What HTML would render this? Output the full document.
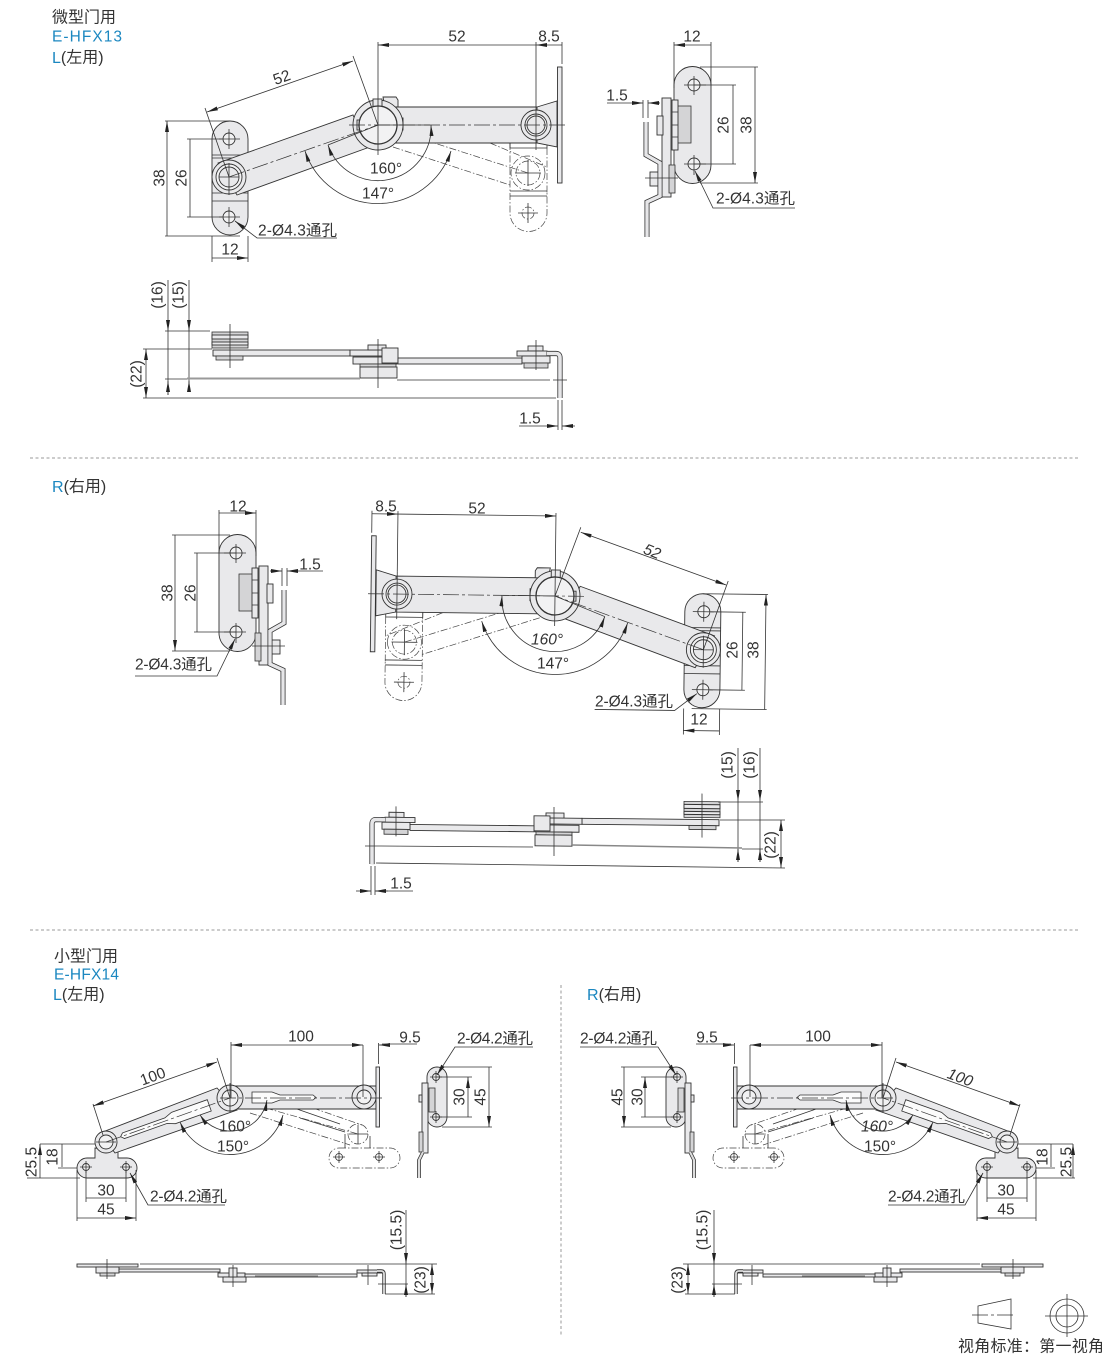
<!DOCTYPE html>
<html><head><meta charset="utf-8">
<style>
html,body{margin:0;padding:0;background:#fff}
svg{display:block}
text{font-family:"Liberation Sans","Noto Sans CJK SC",sans-serif;font-size:15.5px;fill:#333;stroke:none;dominant-baseline:central}
.hd{font-size:16px}
.m{text-anchor:middle}
.b{fill:#1b87c0}
.i{font-style:italic}
.n{fill:none;stroke:#333;stroke-width:.8}
.p{fill:#e9e9eb;stroke:#333;stroke-width:.9}
.w{fill:#f2f2f3;stroke:#333;stroke-width:.9}
.r{fill:#f2f2f3;stroke:#333;stroke-width:1.3}
.o{fill:#fbfbfb;stroke:#333;stroke-width:.8}
.g{fill:#d4d4d6;stroke:#333;stroke-width:.8}
.c{fill:none;stroke:#333;stroke-width:.7;stroke-dasharray:16 3 3 3}
.h{fill:none;stroke:#444;stroke-width:.7;stroke-dasharray:7 2 1.5 2}
.d{fill:none;stroke:#333;stroke-width:.8;marker-start:url(#a);marker-end:url(#a)}
.e{fill:none;stroke:#333;stroke-width:.8;marker-end:url(#a)}
.s{fill:none;stroke:#999;stroke-width:1;stroke-dasharray:3 2.5}
</style></head><body>
<svg width="1110" height="1361" viewBox="0 0 1110 1361" xmlns="http://www.w3.org/2000/svg">
<defs>
<marker id="a" viewBox="0 0 11 4" refX="11" refY="2" markerWidth="11" markerHeight="4" markerUnits="userSpaceOnUse" orient="auto-start-reverse"><path d="M0 0L11 2L0 4z" fill="#222"/></marker>

<g id="f1">
 <path class="h" d="M510 193V213a18.500 18.500 0 0 0 37 0V193M510 143V193M547 148V193"/>
 <path class="h" d="M490 143L547 167M393 147L510 185M378 125L528 173"/>
 <circle class="h" cx="528" cy="173" r="17"/><circle class="h" cx="528" cy="173" r="12"/>
 <circle class="h" cx="528" cy="213" r="6"/>
 <path class="n" d="M510 143V148H547V143M510 191H547M510 196H547M515 173H541M528 160V186M518 213H538M528 203V223"/>
 <path class="p" d="M212 139a18 18 0 0 1 36 0V217a18 18 0 0 1-36 0z"/>
 <path class="n" d="M212 155H248M212 158H248M212 193H248M212 201H248"/>
 <circle class="w" cx="229" cy="139" r="6"/><circle class="w" cx="229" cy="217" r="6"/>
 <path class="n" d="M219 139H240M229 129V149M219 217H240M229 207V227"/>
 <path class="p" d="M537 107L557 101V147L537 143Z"/>
 <path class="p" d="M385 107H537V143H393Z"/>
 <path class="p" d="M218 163L353 115L367 148L237 195Z"/>
 <rect class="p" x="397" y="118" width="6" height="12"/>
 <path class="p" d="M383 97H396L398 100V107H385Z"/>
 <circle class="p" cx="378" cy="125" r="25"/>
 <rect class="p" x="373" y="99" width="9" height="8"/>
 <rect class="p" x="357" y="120" width="4" height="10"/>
 <circle class="r" cx="378" cy="125" r="19"/>
 <circle class="p" cx="229" cy="177" r="17"/><circle class="w" cx="229" cy="177" r="13"/><circle class="p" cx="229" cy="177" r="10"/>
 <circle class="p" cx="536" cy="125" r="15"/><circle class="w" cx="536" cy="125" r="11"/><circle class="p" cx="536" cy="125" r="9"/>
 <rect class="p" x="557.500" y="67" width="4.500" height="116"/>
 <path class="c" d="M349 125H567M229 177L378 125"/>
 <path class="n" d="M378 92V155M536 102V150M229 163V195M219 177H239"/>
 <path class="d" d="M378 45H536M562 45H536"/>
 <path class="n" d="M378 42V92M536 42V102M562 42V64M165 121H230M165 236H240M187 139H222M187 217H222M212 236V262M248 236V262"/>
 <path class="d" d="M167 121V236M190 139V217M212 258H248"/>
 <path class="n" d="M205 108L229 177M353 56L378 125"/>
 <path class="d" d="M207 112L353 61"/>
 <path class="e" d="M337 238H257L235 221"/>
 <path class="n" d="M378 125L430 125M378 125L328 145"/>
 <path class="d" d="M431 125A53 53 0 0 1 328 145"/>
 <path class="d" d="M451 151A77 77 0 0 1 305 151"/>
</g>

<g id="s1">
 <path class="p" d="M674 85a18 18 0 0 1 37 0V165a18 18 0 0 1-37 0z"/>
 <circle class="w" cx="694" cy="85" r="6"/><circle class="w" cx="694" cy="164" r="6"/>
 <path class="n" d="M684 85H706M694 76V95M684 164H706M694 155V175"/>
 <rect class="g" x="677" y="106" width="14" height="37"/>
 <rect class="p" x="672" y="100" width="6" height="50"/>
 <path class="n" d="M672 112H678M672 125H678M672 137H678"/>
 <rect class="p" x="662" y="98" width="9" height="99"/>
 <rect class="p" x="657" y="116" width="6" height="19"/>
 <rect class="g" x="669" y="165" width="6" height="28"/>
 <rect class="p" x="650" y="172" width="12" height="14"/>
 <path fill="none" stroke="#333" stroke-width="5" d="M646 122V155L660 163V196L647 202V237"/>
 <path fill="none" stroke="#e6e6e8" stroke-width="3.400" d="M646 122V155L660 163V196L647 202V237"/>
 <path class="n" d="M645 178H678"/>
 <path class="n" d="M674 42V88M711 42V85M700 67H758M700 183H758M694 85H736M694 164H736M643 100V118M648 100V118"/>
 <path class="d" d="M674 45H711M733 85V164M755 67V183"/>
 <path class="e" d="M607 103H643"/><path class="e" d="M660 103H648"/>
 <path class="e" d="M795 208H713L695 171"/>
</g>

<g id="b1">
 <rect class="g" x="212" y="332" width="36" height="16"/>
 <rect class="p" x="212" y="335" width="36" height="4"/><rect class="p" x="212" y="342" width="36" height="3"/>
 <rect class="p" x="213" y="350" width="137" height="6"/>
 <rect class="g" x="216" y="356" width="27" height="4"/>
 <rect class="p" x="350" y="350" width="33" height="6"/>
 <rect class="p" x="368" y="345" width="18" height="5"/>
 <rect class="p" x="353" y="357" width="44" height="7"/>
 <rect class="p" x="382" y="348" width="16" height="15"/>
 <rect class="g" x="360" y="364" width="36" height="3"/>
 <rect class="p" x="360" y="367" width="37" height="11"/>
 <rect class="p" x="398" y="358" width="124" height="6"/>
 <rect class="p" x="528" y="346" width="15" height="5"/>
 <rect class="p" x="517" y="351" width="30" height="5"/>
 <rect class="p" x="522" y="356" width="28" height="7"/>
 <rect class="g" x="524" y="363" width="24" height="5"/>
 <path fill="none" stroke="#333" stroke-width="5.200" d="M547 353.500H556Q560 353.500 560 358V398"/>
 <path fill="none" stroke="#e6e6e8" stroke-width="3.600" d="M547 353.500H556Q560 353.500 560 358V398"/>
 <path class="n" d="M230 324V368M378 339V388M536 340V370"/>
</g>

<g id="f2">
 <path class="h" d="M339 1148H390a10 10 0 0 1 0 20H339a10 10 0 0 1 0-20zM313 1108L362 1125M250 1113L350 1145M230 1098L358 1134"/>
 <circle class="h" cx="358" cy="1134" r="10"/>
 <path class="n" d="M349 1134H368M358 1125V1144M345 1148V1134M370 1148V1136"/>
 <circle class="n" cx="339" cy="1157" r="3.500"/><circle class="n" cx="379" cy="1157" r="3.500"/>
 <path class="n" d="M333 1157H345M339 1151V1163M373 1157H385M379 1151V1163"/>
 <path class="n" d="M294 1108L340 1124M300 1118L345 1132"/>
 <path class="p" d="M95 1158V1148L118 1150V1158H127a10 10 0 0 1 0 20H87a10 10 0 0 1 0-20z"/>
 <circle class="w" cx="86" cy="1167" r="3.500"/><circle class="w" cx="126" cy="1167" r="3.500"/>
 <path class="n" d="M80 1167H92M86 1161V1173M120 1167H132M126 1161V1173"/>
 <path class="p" d="M230 1086H376V1109H230Z"/>
 <path class="o" d="M252 1092H272L280 1095H313L316 1097.500L313 1100H280L272 1103H252Z"/>
 <path class="p" d="M100 1133L217 1088L237 1110L115 1153Z"/>
 <g transform="rotate(160.500 230 1098)"><path class="o" d="M252 1092H290L298 1095H343L346 1098L343 1101H298L290 1104H252Z"/></g>
 <circle class="p" cx="106" cy="1142" r="11"/><circle class="w" cx="106" cy="1142" r="7"/>
 <circle class="p" cx="230" cy="1098" r="13"/><circle class="w" cx="230" cy="1098" r="8"/>
 <circle class="p" cx="364" cy="1097" r="12"/><circle class="w" cx="364" cy="1097" r="7"/>
 <rect class="p" x="376" y="1067" width="3.500" height="60"/>
 <path class="c" d="M220 1098H382M106 1142L230 1098"/>
 <path class="n" d="M230 1083V1112M96 1142H116"/>
 <path class="n" d="M231 1042V1098M363 1045V1097M378.500 1043V1064M40 1144H95M38 1178H80M58 1168H77M77 1170V1221M136 1170V1221M86 1170V1202M126 1170V1202"/>
 <path class="d" d="M231 1045H363"/><path class="e" d="M390 1045H379"/><path class="n" d="M382 1044H417"/>
 <path class="n" d="M93 1104L103 1135M217 1058L230 1098"/>
 <path class="d" d="M93 1106L217 1062"/>
 <path class="d" d="M40 1144V1178M62 1144V1167M86 1198H126M77 1218H136"/>
 <path class="d" d="M267 1100A37 37 0 0 1 200 1115"/>
 <path class="d" d="M283 1115A55 55 0 0 1 180 1122"/>
 <path class="e" d="M225 1205H148L130 1173"/>
 <path class="p" d="M427 1077a10 10 0 0 1 20 0V1117a10 10 0 0 1-20 0z"/>
 <circle class="w" cx="436" cy="1077" r="3.500"/><circle class="w" cx="436" cy="1117" r="3.500"/>
 <path class="n" d="M430 1077H442M436 1071V1083M430 1117H442M436 1111V1123"/>
 <rect class="g" x="429" y="1088" width="6" height="24"/>
 <rect class="p" x="422" y="1083" width="6" height="70"/>
 <rect class="p" x="419" y="1095" width="3" height="7"/>
 <rect class="g" x="419" y="1132" width="4" height="20"/>
 <path fill="none" stroke="#333" stroke-width="3.600" d="M423 1152L419 1160V1178"/>
 <path fill="none" stroke="#ddd" stroke-width="2" d="M423 1152L419 1160V1178"/>
 <path class="n" d="M436 1077H472M436 1117H472M442 1067H492M442 1127H492"/>
 <path class="d" d="M468 1077V1117M489 1067V1127"/>
 <path class="e" d="M533 1047H455L437 1075"/>
</g>

<g id="b2">
 <rect class="p" x="77" y="1264" width="61" height="3"/>
 <rect class="p" x="96" y="1267" width="23" height="6"/>
 <rect class="g" x="100" y="1273" width="15" height="3"/>
 <rect class="p" x="119" y="1269" width="101" height="3"/>
 <rect class="p" x="218" y="1273" width="27" height="4"/>
 <rect class="p" x="223" y="1277" width="23" height="5"/>
 <rect class="p" x="229" y="1268" width="8" height="9"/>
 <rect class="p" x="245" y="1274" width="112" height="3"/>
 <rect x="255" y="1275.500" width="63" height="1.500" fill="#666"/>
 <rect class="p" x="357" y="1270" width="26" height="3"/>
 <rect class="p" x="362" y="1273" width="15" height="3"/>
 <path fill="none" stroke="#333" stroke-width="3.400" d="M377 1271H381Q384 1271 384 1274V1294"/>
 <path fill="none" stroke="#ddd" stroke-width="1.800" d="M377 1271H381Q384 1271 384 1274V1294"/>
 <path class="n" d="M107 1259V1279M233 1265V1287M368 1265V1285"/>
 <path class="n" d="M140 1264H437M385 1294H435M378 1284H408" stroke-width="1"/>
 <path class="n" d="M406 1264V1297"/>
 <path class="e" d="M406 1210V1264"/><path class="e" d="M406 1297V1284"/>
 <path class="d" d="M432 1264V1294"/>
</g>
</defs>

<text class="hd" x="52" y="18" textLength="64">微型门用</text>
<text class="b" x="52" y="37" textLength="70">E-HFX13</text>
<text class="hd" x="52" y="58"><tspan class="b">L</tspan>(左用)</text>

<use href="#f1"/>
<text class="m" x="457" y="37">52</text><text class="m" x="549" y="37">8.5</text>
<text class="m" x="282" y="78" transform="rotate(-20 282 78)">52</text>
<text class="m" x="160" y="178" transform="rotate(-90 160 178)">38</text>
<text class="m" x="182" y="178" transform="rotate(-90 182 178)">26</text>
<text class="m" x="230" y="250">12</text>
<text class="m" x="386" y="169">160°</text><text class="m" x="378" y="194">147°</text>
<text x="258" y="231" textLength="79">2-Ø4.3通孔</text>

<use href="#s1"/>
<text class="m" x="692" y="37">12</text>
<text class="m" x="724" y="125" transform="rotate(-90 724 125)">26</text>
<text class="m" x="747" y="125" transform="rotate(-90 747 125)">38</text>
<text class="m" x="617" y="96">1.5</text>
<text x="716" y="199" textLength="79">2-Ø4.3通孔</text>

<use href="#b1"/>
<path class="n" d="M143 349H212M143 398H556M165 331H210M165 379H187M397 380H550M553 380H567M558 400V430M562 400V430M519 426H547M168 331V395M189 331V392"/>
<path d="M187 378.500H360" stroke="#999" stroke-width="2" fill="none"/>
<path class="e" d="M168 280V331"/><path class="e" d="M168 395V381"/>
<path class="e" d="M189 280V331"/><path class="e" d="M189 392V381"/>
<path class="d" d="M146 349V398"/>
<path class="e" d="M547 426H558"/><path class="e" d="M575 426H562"/>
<text class="m" x="158" y="295" transform="rotate(-90 158 295)">(16)</text>
<text class="m" x="179" y="295" transform="rotate(-90 179 295)">(15)</text>
<text class="m" x="137" y="374" transform="rotate(-90 137 374)">(22)</text>
<text class="m" x="530" y="419">1.5</text>

<path class="s" d="M30 458H1080M30 930H1080M561 985V1335"/>

<text class="hd" x="52" y="487"><tspan class="b">R</tspan>(右用)</text>

<use href="#f1" transform="matrix(-1,-0.012,-0.012,1,934.5,475.5)"/>
<text class="m" x="386" y="507">8.5</text><text class="m" x="477" y="509">52</text>
<text class="m i" x="652" y="552" transform="rotate(22 652 552)">52</text>
<text class="m" x="733" y="650" transform="rotate(-90 733 650)">26</text>
<text class="m" x="754" y="650" transform="rotate(-90 754 650)">38</text>
<text class="m" x="699" y="720">12</text>
<text class="m i" x="547" y="640">160°</text><text class="m" x="553" y="664">147°</text>
<text x="595" y="702" textLength="78">2-Ø4.3通孔</text>

<use href="#s1" transform="translate(930,468) scale(-1,1)"/>
<text class="m" x="238" y="507">12</text>
<text class="m" x="168" y="593" transform="rotate(-90 168 593)">38</text>
<text class="m" x="191" y="593" transform="rotate(-90 191 593)">26</text>
<text class="m" x="310" y="565">1.5</text>
<text x="135" y="665" textLength="77">2-Ø4.3通孔</text>

<use href="#b1" transform="matrix(-1,-0.0106,0,1,932,472)"/>
<path class="n" d="M376 863L785 868M718 802H763M720 820H785M365 846H380M377 846L533 847M742 849H763M371 866V895M375 866V895M376 891H413M738 801V862M760 801V862"/>
<path d="M572 845L742 848" stroke="#888" stroke-width="1.500" fill="none"/>
<path class="e" d="M738 748V801"/><path class="e" d="M738 862V849"/>
<path class="e" d="M760 748V801"/><path class="e" d="M760 862V849"/>
<path class="d" d="M781 820V868"/>
<path class="e" d="M356 891H371"/><path class="e" d="M388 891H375"/>
<text class="m" x="728" y="765" transform="rotate(-90 728 765)">(15)</text>
<text class="m" x="750" y="765" transform="rotate(-90 750 765)">(16)</text>
<text class="m" x="771" y="845" transform="rotate(-90 771 845)">(22)</text>
<text class="m" x="401" y="884">1.5</text>

<text class="hd" x="54" y="957" textLength="64">小型门用</text>
<text class="b" x="54" y="975" textLength="65">E-HFX14</text>
<text class="hd" x="53" y="995"><tspan class="b">L</tspan>(左用)</text>
<text class="hd" x="587" y="995"><tspan class="b">R</tspan>(右用)</text>

<use href="#f2"/>
<path class="n" d="M27 1178H38"/>
<text class="m" x="301" y="1037">100</text><text class="m" x="410" y="1038">9.5</text>
<text class="m" x="153" y="1077" transform="rotate(-20 153 1077)">100</text>
<text class="m" x="235" y="1127">160°</text><text class="m" x="233" y="1147">150°</text>
<text class="m" x="32" y="1162" transform="rotate(-90 32 1162)">25.5</text>
<text class="m" x="53" y="1157" transform="rotate(-90 53 1157)">18</text>
<text class="m" x="106" y="1191">30</text><text class="m" x="106" y="1210">45</text>
<text x="150" y="1197" textLength="77">2-Ø4.2通孔</text>
<text x="457" y="1039" textLength="76">2-Ø4.2通孔</text>
<text class="m" x="460" y="1097" transform="rotate(-90 460 1097)">30</text>
<text class="m" x="481" y="1097" transform="rotate(-90 481 1097)">45</text>

<use href="#b2"/>
<text class="m" x="397" y="1230" transform="rotate(-90 397 1230)">(15.5)</text>
<text class="m" x="421" y="1280" transform="rotate(-90 421 1280)">(23)</text>

<use href="#f2" transform="translate(1113,0) scale(-1,1)"/>
<text class="m" x="818" y="1037">100</text><text class="m" x="707" y="1038">9.5</text>
<text class="m i" x="960" y="1078" transform="rotate(20 960 1078)">100</text>
<text class="m i" x="877" y="1127">160°</text><text class="m" x="880" y="1147">150°</text>
<text class="m" x="1067" y="1162" transform="rotate(-90 1067 1162)">25.5</text>
<text class="m" x="1043" y="1157" transform="rotate(-90 1043 1157)">18</text>
<text class="m" x="1006" y="1191">30</text><text class="m" x="1006" y="1210">45</text>
<text x="888" y="1197" textLength="77">2-Ø4.2通孔</text>
<text x="580" y="1039" textLength="77">2-Ø4.2通孔</text>
<text class="m" x="638" y="1097" transform="rotate(-90 638 1097)">30</text>
<text class="m" x="618" y="1097" transform="rotate(-90 618 1097)">45</text>

<use href="#b2" transform="translate(1120,0) scale(-1,1)"/>
<text class="m" x="703" y="1230" transform="rotate(-90 703 1230)">(15.5)</text>
<text class="m" x="678" y="1280" transform="rotate(-90 678 1280)">(23)</text>

<path class="n" d="M978 1306L1011 1299V1329L978 1323Z" stroke-width="1"/>
<path class="c" stroke-dasharray="10 2 2 2" d="M972 1315H1016"/>
<circle class="n" cx="1067" cy="1316" r="17"/><circle class="n" cx="1067" cy="1316" r="11"/>
<path class="n" d="M1045 1316H1088M1067 1294V1337"/>
<text class="hd" x="958" y="1347" textLength="146">视角标准：第一视角</text>
</svg>
</body></html>
